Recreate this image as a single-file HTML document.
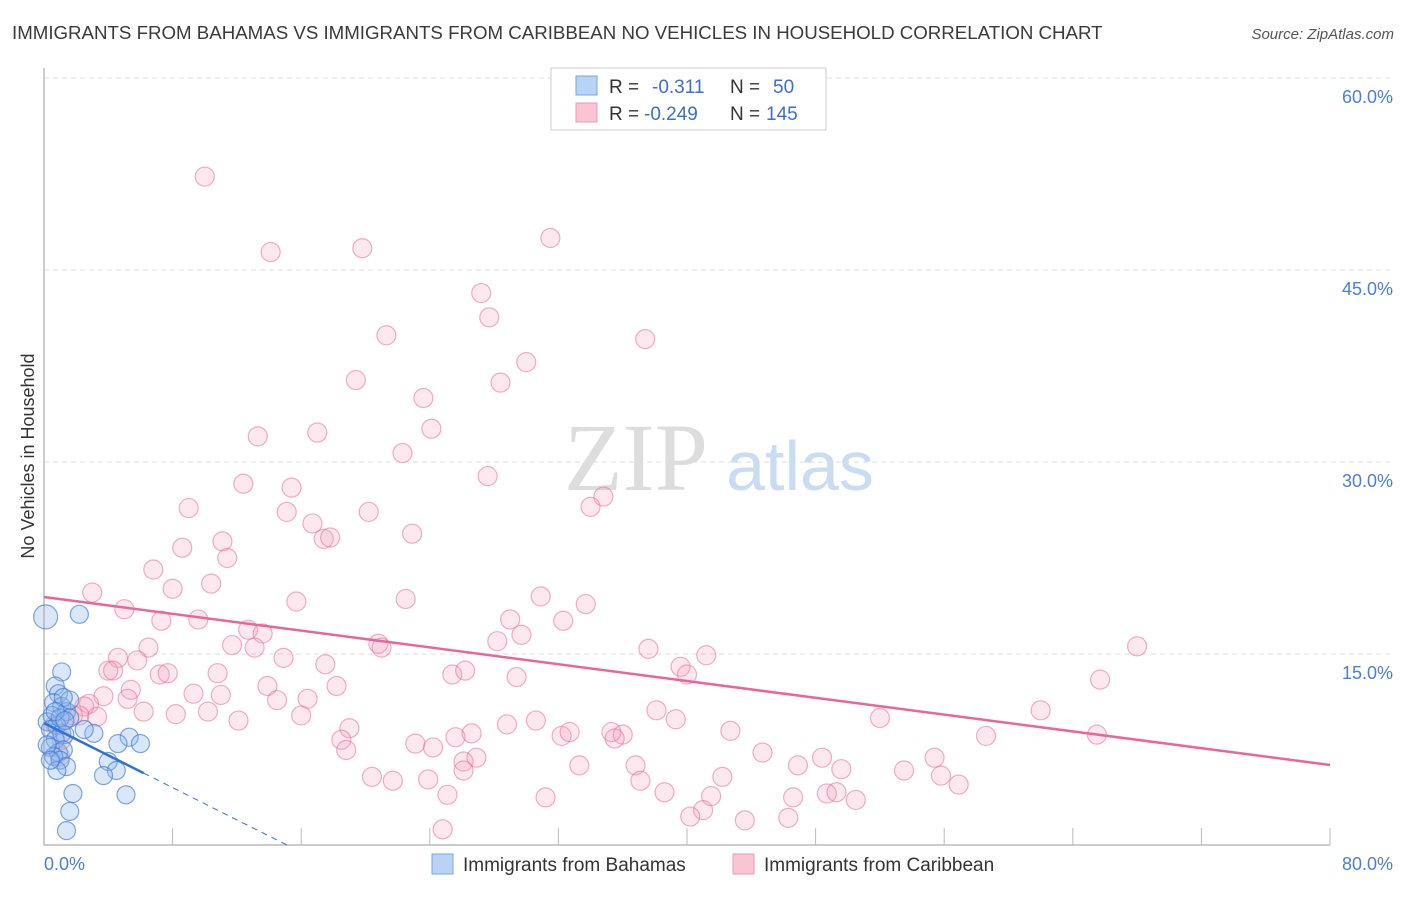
<!DOCTYPE html>
<html><head><meta charset="utf-8"><style>
body{margin:0;background:#fff;font-family:"Liberation Sans",sans-serif}
</style></head><body>
<svg id="c" width="1406" height="892" xmlns="http://www.w3.org/2000/svg">
<text x="12" y="39" font-size="18.7" fill="#3a3a3a">IMMIGRANTS FROM BAHAMAS VS IMMIGRANTS FROM CARIBBEAN NO VEHICLES IN HOUSEHOLD CORRELATION CHART</text>
<text x="1394" y="39" font-size="15" fill="#555" font-style="italic" text-anchor="end">Source: ZipAtlas.com</text>
<text x="636" y="490" font-size="96" fill="#ddd" font-family="Liberation Serif" text-anchor="middle">ZIP</text>
<text x="800" y="490" font-size="70" fill="#c9dcf3" text-anchor="middle">atlas</text>
<g id="grid"></g><g id="pts"></g><g id="lines"></g>
<text transform="translate(34,456) rotate(-90)" font-size="18" fill="#333" text-anchor="middle">No Vehicles in Household</text>
<g>
<rect x="551" y="68" width="275" height="62" fill="#fff" stroke="#ccc"/>
<rect x="576" y="76" width="21" height="19" fill="#b8d3f5" stroke="#7aa6e6"/>
<rect x="576" y="103" width="21" height="19" fill="#f9c4d4" stroke="#ee9ab4"/>
<text x="609" y="93" font-size="19" fill="#333">R = </text><text x="652" y="93" font-size="19" fill="#3a6fd0">-0.311</text>
<text x="730" y="93" font-size="19" fill="#333">N = </text><text x="773" y="93" font-size="19" fill="#3a6fd0">50</text>
<text x="609" y="120" font-size="19" fill="#333">R = </text><text x="644" y="120" font-size="19" fill="#3a6fd0">-0.249</text>
<text x="730" y="120" font-size="19" fill="#333">N = </text><text x="766" y="120" font-size="19" fill="#3a6fd0">145</text>
</g>
<g>
<rect x="432" y="854" width="21" height="20" fill="#b8d3f5" stroke="#7aa6e6"/>
<text x="463" y="871" font-size="19" fill="#333">Immigrants from Bahamas</text>
<rect x="733" y="854" width="21" height="20" fill="#f9c4d4" stroke="#ee9ab4"/>
<text x="764" y="871" font-size="19" fill="#333">Immigrants from Caribbean</text>
</g>
</svg>
<script>
const yTicks=[15,30,45,60];
const yTickLabels=["15.0%","30.0%","45.0%","60.0%"];
const xTickCount=10;
const xLabels=["0.0%","80.0%"];
const bahamasX=[0.1,2.2,1.1,0.7,0.9,0.6,1.1,1.4,0.5,1.6,0.2,0.8,0.4,1.1,1.3,0.7,0.4,0.9,1.2,0.6,1.0,1.4,0.8,3.1,2.5,5.3,6.0,4.6,4.0,4.5,3.7,5.1,1.8,1.6,1.4,1.0,0.2,1.6,1.2,0.7,0.4,1.3];
const bahamasY=[17.9,18.1,13.6,12.5,11.9,11.2,10.9,10.5,10.2,10.0,9.7,9.4,9.1,8.8,8.7,8.3,7.7,7.3,7.5,7.0,6.7,6.2,5.9,8.8,9.1,8.5,8.0,8.0,6.6,5.9,5.5,4.0,4.1,2.7,1.2,10.0,7.9,11.4,11.6,10.5,6.7,9.8];
const caribX=[10.0,14.1,19.8,31.5,27.2,27.7,21.3,37.4,30.0,19.4,28.4,23.6,13.3,24.1,17.0,22.3,27.6,12.4,15.4,9.0,34.8,34.0,15.1,20.2,16.7,17.4,17.8,22.9,11.1,8.6,11.4,6.8,10.4,8.0,3.0,22.5,15.7,30.9,33.7,5.0,7.3,9.6,29.0,32.3,6.5,12.7,13.6,29.7,28.2,20.8,21.0,11.7,13.1,37.6,41.2,68.0,4.6,5.8,14.9,17.5,39.6,40.0,4.0,4.3,7.2,7.7,10.8,25.4,26.2,29.4,65.7,5.4,13.9,18.2,9.3,3.7,11.0,16.4,14.5,5.2,2.8,2.5,2.2,3.3,1.8,6.2,8.2,10.2,16.0,38.1,39.3,52.0,62.0,12.1,30.6,19.0,28.8,26.6,25.6,32.2,32.7,35.3,36.0,42.7,18.5,23.1,24.2,18.8,35.5,44.7,58.6,65.5,33.3,26.1,36.8,46.9,48.4,49.6,26.9,20.4,21.7,23.9,26.1,42.2,53.5,55.4,55.8,56.9,37.1,38.6,31.2,25.1,41.5,46.6,48.7,49.3,50.5,41.0,40.2,43.6,46.3,24.8,1.0,1.1,0.7];
const caribY=[52.3,46.4,46.7,47.5,43.2,41.3,39.9,39.6,37.8,36.4,36.2,35.0,32.0,32.6,32.3,30.7,28.9,28.3,28.0,26.4,27.3,26.5,26.1,26.1,25.2,24.0,24.1,24.4,23.8,23.3,22.5,21.6,20.5,20.1,19.8,19.3,19.1,19.5,18.9,18.5,17.6,17.7,17.7,17.6,15.5,16.9,16.6,16.5,16.0,15.8,15.5,15.7,15.5,15.4,14.9,15.6,14.7,14.5,14.7,14.2,14.0,13.4,13.7,13.7,13.4,13.5,13.5,13.4,13.7,13.2,13.0,12.2,12.5,12.5,11.9,11.7,11.8,11.5,11.4,11.5,11.1,10.9,10.2,10.1,10.2,10.5,10.3,10.5,10.2,10.6,9.9,10.0,10.6,9.8,9.8,9.2,9.5,8.8,8.5,8.6,8.9,8.9,8.7,9.0,8.3,8.0,7.7,7.5,8.4,7.3,8.6,8.7,6.3,6.6,6.3,6.3,6.9,6.0,6.9,5.4,5.1,5.2,5.9,5.4,5.9,6.9,5.5,4.8,5.1,4.2,3.8,4.0,3.9,3.8,4.1,4.2,3.6,2.8,2.3,2.0,2.2,1.3,7.0,8.3,9.5];
const bahamasTrend=[9.6,-0.63];
const caribTrend=[19.45,-0.164];
const NS="http://www.w3.org/2000/svg";
const X=v=>44+v*16.075, Y=v=>846-v*12.8;
function mk(t,a,p){const e=document.createElementNS(NS,t);for(const k in a)e.setAttribute(k,a[k]);document.getElementById(p).appendChild(e);return e;}
yTicks.forEach((t,i)=>{
 const l=mk('line',{x1:44,x2:1393,y1:Y(t),y2:Y(t),stroke:'#ddd','stroke-dasharray':'5,4'},'grid');
 
 
 const tx=mk('text',{x:1393,y:Y(t)+25,'font-size':18,fill:'#4a7fd4','text-anchor':'end'},'grid');
 tx.textContent=yTickLabels[i];
 
 
});
for(let i=1;i<=xTickCount;i++){const l=mk('line',{x1:X(i*8),x2:X(i*8),y1:828,y2:845,stroke:'#bbb'},'grid');
 
 }
const ax=mk('path',{d:'M44 68V845H1330',fill:'none',stroke:'#bbb','stroke-width':1.5},'grid');


const x0=mk('text',{x:44,y:870,'font-size':18,fill:'#4a7fd4'},'grid');x0.textContent=xLabels[0];


const x1=mk('text',{x:1393,y:870,'font-size':18,fill:'#4a7fd4','text-anchor':'end'},'grid');x1.textContent=xLabels[1];


caribX.forEach((v,i)=>{const c=mk('circle',{cx:X(v),cy:Y(caribY[i]),r:9.5,fill:'rgba(244,150,180,0.22)',stroke:'rgba(232,110,150,0.55)','stroke-width':1.2},'pts');
 
 });
bahamasX.forEach((v,i)=>{const c=mk('circle',{cx:X(v),cy:Y(bahamasY[i]),r:i==0?12:9,fill:'rgba(140,180,235,0.32)',stroke:'rgba(60,120,210,0.65)','stroke-width':1.2},'pts');
 
 });
const ct=mk('line',{x1:X(0),y1:Y(caribTrend[0]),x2:X(80),y2:Y(caribTrend[0]+caribTrend[1]*80),stroke:'#e8679a','stroke-width':2.5},'lines');


const bEnd=6.2, bZero=-bahamasTrend[0]/bahamasTrend[1];
const bt=mk('line',{x1:X(0),y1:Y(bahamasTrend[0]),x2:X(bEnd),y2:Y(bahamasTrend[0]+bahamasTrend[1]*bEnd),stroke:'#2f72d6','stroke-width':2.5},'lines');


const bd=mk('line',{x1:X(bEnd),y1:Y(bahamasTrend[0]+bahamasTrend[1]*bEnd),x2:X(bZero),y2:Y(0),stroke:'#2f72d6','stroke-width':1,'stroke-dasharray':'6,5'},'lines');


</script>
</body></html>
